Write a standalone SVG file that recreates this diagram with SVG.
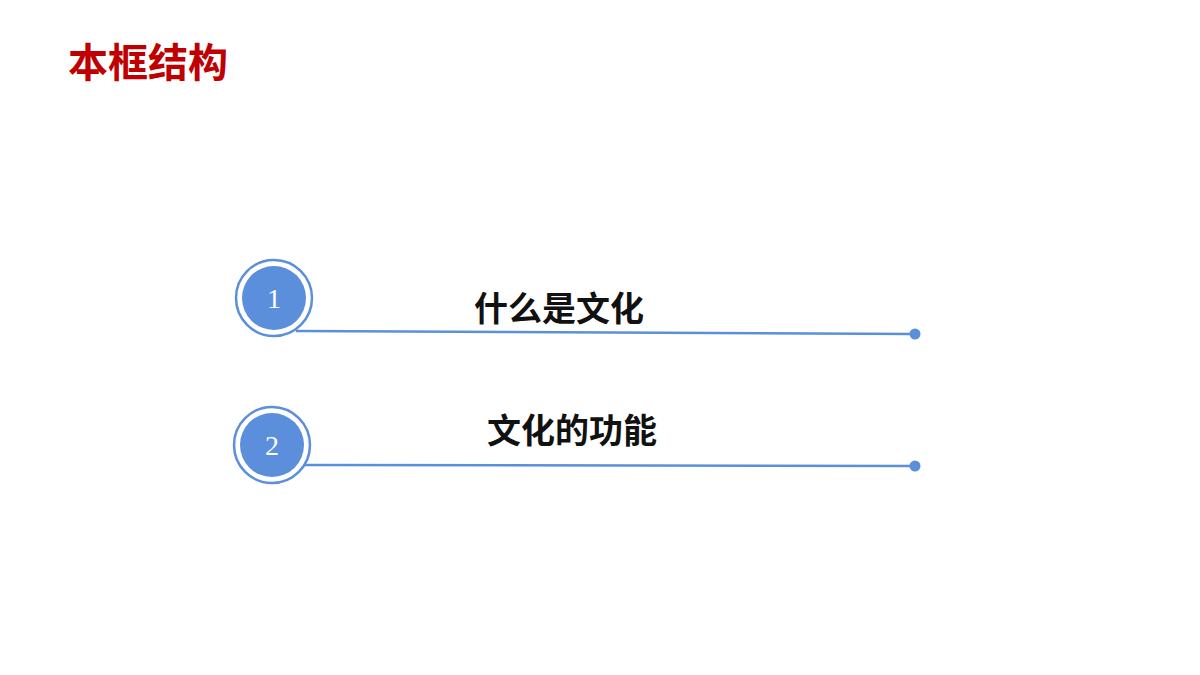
<svg xmlns="http://www.w3.org/2000/svg" width="1200" height="675" viewBox="0 0 1200 675">
<style>
.ring{fill:#fff;stroke:#5b8fdc;stroke-width:2.5}
.disc{fill:#5b8fdc}
.num{font-family:"Liberation Serif",serif;font-size:28px;fill:#fff;text-anchor:middle}
.lbl{font-family:"Noto Sans CJK SC",sans-serif;font-weight:bold;font-size:34px;fill:#111}
.ln{stroke:#5b8fdc;stroke-width:2.5;fill:none}
</style>
<rect width="1200" height="675" fill="#fff"/>
<text x="68" y="77" font-family="Noto Sans CJK SC,sans-serif" font-weight="bold" font-size="40" fill="#c00000">本框结构</text>
<g id="connectors">
<path class="ln" d="M296 331 L915 334"/>
<circle cx="915" cy="334" r="5.5" class="disc"/>
<path class="ln" d="M305 465 L915 466"/>
<circle cx="915" cy="466" r="5.5" class="disc"/>
</g>
<g id="node1">
<circle cx="274" cy="298" r="38" class="ring"/>
<circle cx="274" cy="298" r="32" class="disc"/>
<text x="274" y="308" class="num">1</text>
<text x="474" y="321" class="lbl">什么是文化</text>
</g>
<g id="node2">
<circle cx="272" cy="445" r="38" class="ring"/>
<circle cx="272" cy="445" r="32" class="disc"/>
<text x="272" y="455" class="num">2</text>
<text x="487" y="443" class="lbl">文化的功能</text>
</g>
</svg>
